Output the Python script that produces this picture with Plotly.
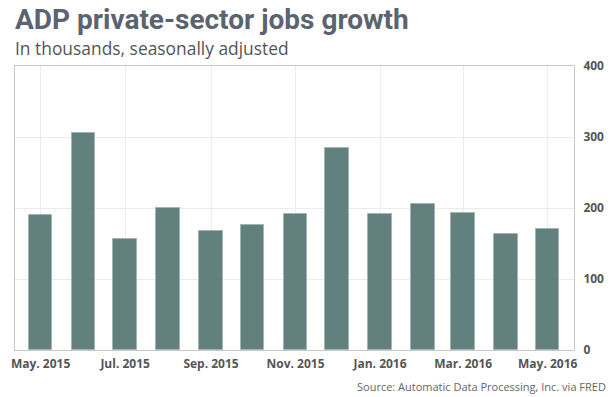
import plotly.graph_objects as go

months = ["2015-05-01", "2015-06-01", "2015-07-01", "2015-08-01", "2015-09-01",
          "2015-10-01", "2015-11-01", "2015-12-01", "2016-01-01", "2016-02-01",
          "2016-03-01", "2016-04-01", "2016-05-01"]
jobs = [190, 305, 156, 200, 168, 176, 191, 284, 191, 205, 193, 164, 171]

tick_dates = ["2015-05-01", "2015-07-01", "2015-09-01", "2015-11-01",
              "2016-01-01", "2016-03-01", "2016-05-01"]
tick_labels = ["May. 2015", "Jul. 2015", "Sep. 2015", "Nov. 2015",
               "Jan. 2016", "Mar. 2016", "May. 2016"]
y_ticks = [0, 100, 200, 300, 400]

DAY_MS = 86400000

fig = go.Figure(go.Bar(
    x=months, y=jobs,
    width=17 * DAY_MS,
    marker=dict(color="#62807d", line=dict(color="#a3b5b3", width=1)),
    hoverinfo="x+y",
))

fig.update_layout(
    width=615, height=397,
    margin=dict(l=11, r=36, t=66, b=47),
    paper_bgcolor="white", plot_bgcolor="white",
    showlegend=False,
    font=dict(family="Open Sans", color="#555555"),
    xaxis=dict(
        type="date",
        range=["2015-04-12 12:00", "2016-05-20"],
        tickvals=tick_dates, ticktext=tick_labels,
        tickfont=dict(family="Open Sans", size=12, color="#555555", weight="bold"),
        showgrid=True, gridcolor="#ebebeb", gridwidth=1,
        showline=True, linecolor="#c8c8c8", linewidth=1, mirror=True,
        ticks="outside", ticklen=3, tickcolor="rgba(0,0,0,0)",
        zeroline=False, fixedrange=True,
    ),
    yaxis=dict(
        side="right",
        range=[0, 400],
        tickvals=y_ticks,
        tickfont=dict(family="Open Sans", size=12, color="#555555", weight="bold"),
        showgrid=True, gridcolor="#ebebeb", gridwidth=1,
        showline=True, linecolor="#c8c8c8", linewidth=1, mirror=True,
        ticks="outside", ticklen=6, tickcolor="rgba(0,0,0,0)",
        zeroline=False, fixedrange=True,
    ),
    bargap=0,
)

fig.add_annotation(
    text="ADP private-sector jobs growth",
    xref="paper", yref="paper", x=-0.004, y=1.164,
    xanchor="left", yanchor="middle", showarrow=False,
    font=dict(family="Roboto", size=28, color="#5c6370", weight="bold"),
)
fig.add_annotation(
    text="In thousands, seasonally adjusted",
    xref="paper", yref="paper", x=-0.004, y=1.062,
    xanchor="left", yanchor="middle", showarrow=False,
    font=dict(family="Open Sans", size=17.4, color="#555555"),
)
fig.add_annotation(
    text="Source: Automatic Data Processing, Inc. via FRED",
    xref="paper", yref="paper", x=1.06, y=-0.127,
    xanchor="right", yanchor="middle", showarrow=False,
    font=dict(family="Open Sans", size=11, color="#666666"),
)

# remove the default 8px page margin so the 615x397 figure fills the window exactly
fig.write_html(
    "out.html",
    config={"displayModeBar": False},
    post_script="document.body.style.margin='0';document.body.style.overflow='hidden';",
)
